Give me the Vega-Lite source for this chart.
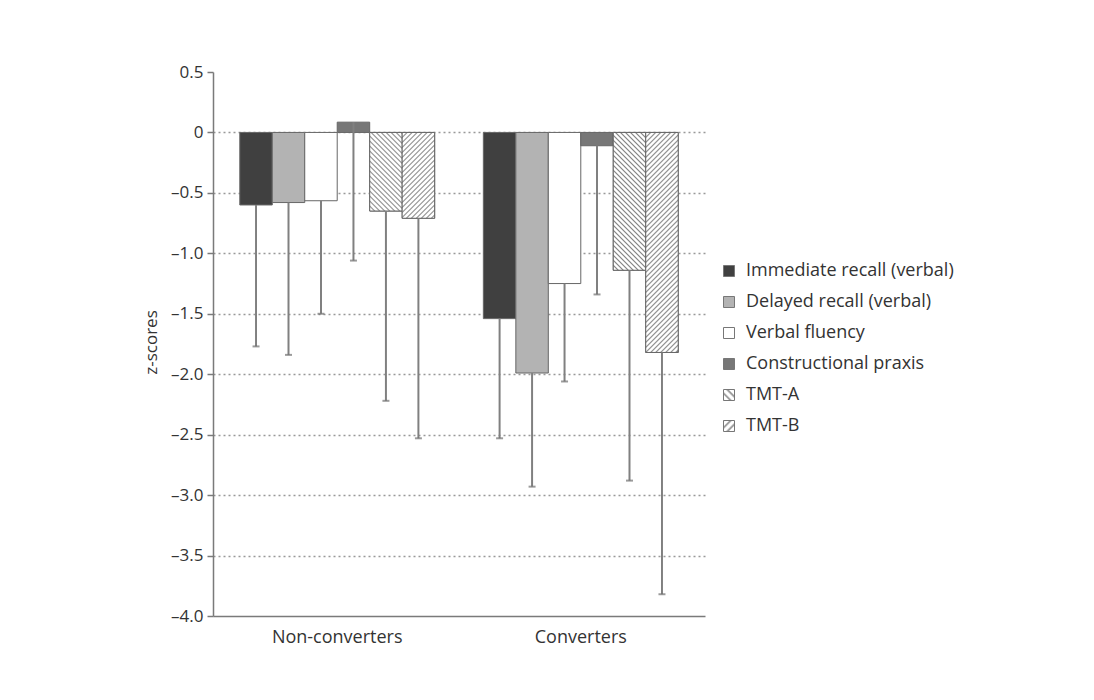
{
  "$schema": "https://vega.github.io/schema/vega-lite/v6.json",
  "autosize": {"type": "none"},
  "padding": {"left": 213, "top": 72, "right": 389, "bottom": 84},
  "width": 492,
  "height": 544,
  "background": "white",
  "config": {
    "view": {"stroke": null},
    "font": "Open Sans",
    "axis": {"labelFont": "Open Sans", "titleFont": "Open Sans"},
    "legend": {"labelFont": "Open Sans"}
  },
  "params": [
    {"name": "gradA", "value": {"gradient": "linear", "x1": 0, "y1": 1, "x2": 1, "y2": 0, "stops": [
      {"offset": 0, "color": "#888"}, {"offset": 0.1, "color": "#fff"}, {"offset": 0.23, "color": "#fff"},
      {"offset": 0.333, "color": "#888"}, {"offset": 0.43, "color": "#fff"}, {"offset": 0.56, "color": "#fff"},
      {"offset": 0.667, "color": "#888"}, {"offset": 0.77, "color": "#fff"}, {"offset": 0.9, "color": "#fff"},
      {"offset": 1, "color": "#888"}]}},
    {"name": "gradB", "value": {"gradient": "linear", "x1": 0, "y1": 0, "x2": 1, "y2": 1, "stops": [
      {"offset": 0, "color": "#888"}, {"offset": 0.1, "color": "#fff"}, {"offset": 0.23, "color": "#fff"},
      {"offset": 0.333, "color": "#888"}, {"offset": 0.43, "color": "#fff"}, {"offset": 0.56, "color": "#fff"},
      {"offset": 0.667, "color": "#888"}, {"offset": 0.77, "color": "#fff"}, {"offset": 0.9, "color": "#fff"},
      {"offset": 1, "color": "#888"}]}},
    {"name": "hatch", "value": [
      {"offset":0,"color":"#888"},{"offset":0.006,"color":"#fff"},{"offset":0.014,"color":"#fff"},
      {"offset":0.02,"color":"#888"},{"offset":0.026,"color":"#fff"},{"offset":0.034,"color":"#fff"},
      {"offset":0.04,"color":"#888"},{"offset":0.046,"color":"#fff"},{"offset":0.054,"color":"#fff"},
      {"offset":0.06,"color":"#888"},{"offset":0.066,"color":"#fff"},{"offset":0.074,"color":"#fff"},
      {"offset":0.08,"color":"#888"},{"offset":0.086,"color":"#fff"},{"offset":0.094,"color":"#fff"},
      {"offset":0.10,"color":"#888"},{"offset":0.106,"color":"#fff"},{"offset":0.114,"color":"#fff"},
      {"offset":0.12,"color":"#888"},{"offset":0.126,"color":"#fff"},{"offset":0.134,"color":"#fff"},
      {"offset":0.14,"color":"#888"},{"offset":0.146,"color":"#fff"},{"offset":0.154,"color":"#fff"},
      {"offset":0.16,"color":"#888"},{"offset":0.166,"color":"#fff"},{"offset":0.174,"color":"#fff"},
      {"offset":0.18,"color":"#888"},{"offset":0.186,"color":"#fff"},{"offset":0.194,"color":"#fff"},
      {"offset":0.20,"color":"#888"},{"offset":0.206,"color":"#fff"},{"offset":0.214,"color":"#fff"},
      {"offset":0.22,"color":"#888"},{"offset":0.226,"color":"#fff"},{"offset":0.234,"color":"#fff"},
      {"offset":0.24,"color":"#888"},{"offset":0.246,"color":"#fff"},{"offset":0.254,"color":"#fff"},
      {"offset":0.26,"color":"#888"},{"offset":0.266,"color":"#fff"},{"offset":0.274,"color":"#fff"},
      {"offset":0.28,"color":"#888"},{"offset":0.286,"color":"#fff"},{"offset":0.294,"color":"#fff"},
      {"offset":0.30,"color":"#888"},{"offset":0.306,"color":"#fff"},{"offset":0.314,"color":"#fff"},
      {"offset":0.32,"color":"#888"},{"offset":0.326,"color":"#fff"},{"offset":0.334,"color":"#fff"},
      {"offset":0.34,"color":"#888"},{"offset":0.346,"color":"#fff"},{"offset":0.354,"color":"#fff"},
      {"offset":0.36,"color":"#888"},{"offset":0.366,"color":"#fff"},{"offset":0.374,"color":"#fff"},
      {"offset":0.38,"color":"#888"},{"offset":0.386,"color":"#fff"},{"offset":0.394,"color":"#fff"},
      {"offset":0.40,"color":"#888"},{"offset":0.406,"color":"#fff"},{"offset":0.414,"color":"#fff"},
      {"offset":0.42,"color":"#888"},{"offset":0.426,"color":"#fff"},{"offset":0.434,"color":"#fff"},
      {"offset":0.44,"color":"#888"},{"offset":0.446,"color":"#fff"},{"offset":0.454,"color":"#fff"},
      {"offset":0.46,"color":"#888"},{"offset":0.466,"color":"#fff"},{"offset":0.474,"color":"#fff"},
      {"offset":0.48,"color":"#888"},{"offset":0.486,"color":"#fff"},{"offset":0.494,"color":"#fff"},
      {"offset":0.50,"color":"#888"},{"offset":0.506,"color":"#fff"},{"offset":0.514,"color":"#fff"},
      {"offset":0.52,"color":"#888"},{"offset":0.526,"color":"#fff"},{"offset":0.534,"color":"#fff"},
      {"offset":0.54,"color":"#888"},{"offset":0.546,"color":"#fff"},{"offset":0.554,"color":"#fff"},
      {"offset":0.56,"color":"#888"},{"offset":0.566,"color":"#fff"},{"offset":0.574,"color":"#fff"},
      {"offset":0.58,"color":"#888"},{"offset":0.586,"color":"#fff"},{"offset":0.594,"color":"#fff"},
      {"offset":0.60,"color":"#888"},{"offset":0.606,"color":"#fff"},{"offset":0.614,"color":"#fff"},
      {"offset":0.62,"color":"#888"},{"offset":0.626,"color":"#fff"},{"offset":0.634,"color":"#fff"},
      {"offset":0.64,"color":"#888"},{"offset":0.646,"color":"#fff"},{"offset":0.654,"color":"#fff"},
      {"offset":0.66,"color":"#888"},{"offset":0.666,"color":"#fff"},{"offset":0.674,"color":"#fff"},
      {"offset":0.68,"color":"#888"},{"offset":0.686,"color":"#fff"},{"offset":0.694,"color":"#fff"},
      {"offset":0.70,"color":"#888"},{"offset":0.706,"color":"#fff"},{"offset":0.714,"color":"#fff"},
      {"offset":0.72,"color":"#888"},{"offset":0.726,"color":"#fff"},{"offset":0.734,"color":"#fff"},
      {"offset":0.74,"color":"#888"},{"offset":0.746,"color":"#fff"},{"offset":0.754,"color":"#fff"},
      {"offset":0.76,"color":"#888"},{"offset":0.766,"color":"#fff"},{"offset":0.774,"color":"#fff"},
      {"offset":0.78,"color":"#888"},{"offset":0.786,"color":"#fff"},{"offset":0.794,"color":"#fff"},
      {"offset":0.80,"color":"#888"},{"offset":0.806,"color":"#fff"},{"offset":0.814,"color":"#fff"},
      {"offset":0.82,"color":"#888"},{"offset":0.826,"color":"#fff"},{"offset":0.834,"color":"#fff"},
      {"offset":0.84,"color":"#888"},{"offset":0.846,"color":"#fff"},{"offset":0.854,"color":"#fff"},
      {"offset":0.86,"color":"#888"},{"offset":0.866,"color":"#fff"},{"offset":0.874,"color":"#fff"},
      {"offset":0.88,"color":"#888"},{"offset":0.886,"color":"#fff"},{"offset":0.894,"color":"#fff"},
      {"offset":0.90,"color":"#888"},{"offset":0.906,"color":"#fff"},{"offset":0.914,"color":"#fff"},
      {"offset":0.92,"color":"#888"},{"offset":0.926,"color":"#fff"},{"offset":0.934,"color":"#fff"},
      {"offset":0.94,"color":"#888"},{"offset":0.946,"color":"#fff"},{"offset":0.954,"color":"#fff"},
      {"offset":0.96,"color":"#888"},{"offset":0.966,"color":"#fff"},{"offset":0.974,"color":"#fff"},
      {"offset":0.98,"color":"#888"},{"offset":0.986,"color":"#fff"},{"offset":0.994,"color":"#fff"},
      {"offset":1,"color":"#888"}
    ]}
  ],
  "data": {"values": [
    {"group": "Non-converters", "measure": "Immediate recall (verbal)", "value": -0.60, "low": -1.77},
    {"group": "Non-converters", "measure": "Delayed recall (verbal)", "value": -0.58, "low": -1.84},
    {"group": "Non-converters", "measure": "Verbal fluency", "value": -0.565, "low": -1.50},
    {"group": "Non-converters", "measure": "Constructional praxis", "value": 0.085, "low": -1.06},
    {"group": "Non-converters", "measure": "TMT-A", "value": -0.65, "low": -2.22},
    {"group": "Non-converters", "measure": "TMT-B", "value": -0.71, "low": -2.53},
    {"group": "Converters", "measure": "Immediate recall (verbal)", "value": -1.54, "low": -2.53},
    {"group": "Converters", "measure": "Delayed recall (verbal)", "value": -1.99, "low": -2.93},
    {"group": "Converters", "measure": "Verbal fluency", "value": -1.25, "low": -2.06},
    {"group": "Converters", "measure": "Constructional praxis", "value": -0.11, "low": -1.34},
    {"group": "Converters", "measure": "TMT-A", "value": -1.14, "low": -2.88},
    {"group": "Converters", "measure": "TMT-B", "value": -1.82, "low": -3.82}
  ]},
  "encoding": {
    "x": {
      "field": "group", "type": "nominal",
      "sort": ["Non-converters", "Converters"],
      "scale": {"paddingInner": 0.2, "paddingOuter": 0.11},
      "axis": {
        "title": null, "labelAngle": 0, "ticks": false, "domainColor": "#7a7a7a", "domainWidth": 1.5,
        "labelFontSize": 18, "labelColor": "#333", "labelPadding": 12, "grid": false
      }
    },
    "xOffset": {
      "field": "measure", "type": "nominal",
      "sort": ["Immediate recall (verbal)", "Delayed recall (verbal)", "Verbal fluency", "Constructional praxis", "TMT-A", "TMT-B"],
      "scale": {"paddingInner": 0, "paddingOuter": 0}
    }
  },
  "layer": [
    {
      "mark": {"type": "bar", "stroke": "#666", "strokeWidth": 1, "opacity": 1},
      "encoding": {
        "y": {
          "field": "value", "type": "quantitative",
          "scale": {"domain": [-4, 0.5], "nice": false, "zero": false},
          "axis": {
            "title": "z-scores", "titleFontSize": 17, "titleFontWeight": "normal", "titleColor": "#333", "titlePadding": 10,
            "titleY": 270, "titleAnchor": "middle", "titleAlign": "center", "titleAngle": -90,
            "values": [-4, -3.5, -3, -2.5, -2, -1.5, -1, -0.5, 0, 0.5],
            "labelExpr": "datum.value == 0 ? '0' : replace(replace(format(datum.value, '.1f'), '-', '\u2013'), '\u2212', '\u2013')",
            "labelFontSize": 17, "labelColor": "#333", "labelPadding": 4,
            "domainColor": "#7a7a7a", "domainWidth": 1.5, "tickColor": "#7a7a7a", "tickSize": 6, "tickWidth": 1.5,
            "grid": true, "gridColor": "#999", "gridDash": [2, 3], "gridWidth": 1.5,
            "gridOpacity": {"condition": {"test": "datum.value == 0.5 || datum.value == -4", "value": 0}, "value": 1}
          }
        },
        "color": {
          "field": "measure", "type": "nominal",
          "sort": ["Immediate recall (verbal)", "Delayed recall (verbal)", "Verbal fluency", "Constructional praxis", "TMT-A", "TMT-B"],
          "scale": {
            "domain": ["Immediate recall (verbal)", "Delayed recall (verbal)", "Verbal fluency", "Constructional praxis", "TMT-A", "TMT-B"],
            "range": ["#404040", "#b3b3b3", "#ffffff", "#777777", {"expr": "gradA"}, {"expr": "gradB"}]
          },
          "legend": {
            "title": null, "orient": "none", "legendX": 507, "legendY": 190,
            "symbolType": "square", "symbolSize": 121, "symbolStrokeColor": "#777", "symbolStrokeWidth": 1,
            "labelFontSize": 18, "labelColor": "#333", "labelOffset": 8, "rowPadding": 13, "labelLimit": 400,
            "encoding": {
              "symbols": {
                "stroke": {"value": "#777"},
                "strokeWidth": {"value": 1},
                "opacity": {"value": 1}
              }
            }
          }
        },
        "y2": {"datum": 0}
      }
    },
    {
      "transform": [{"filter": "datum.measure === 'TMT-A' || datum.measure === 'TMT-B'"}],
      "mark": {
        "type": "bar", "stroke": "#666", "strokeWidth": 1,
        "fill": {"expr": "datum.measure === 'TMT-A' ? {gradient: 'linear', x1: 0, y1: 1, x2: 250*bandwidth('xOffset')/(pow(bandwidth('xOffset'),2)+pow(scale('y',datum.value)-scale('y',0),2)), y2: 1 - 250*abs(scale('y',datum.value)-scale('y',0))/(pow(bandwidth('xOffset'),2)+pow(scale('y',datum.value)-scale('y',0),2)), stops: hatch} : {gradient: 'linear', x1: 0, y1: 0, x2: 250*bandwidth('xOffset')/(pow(bandwidth('xOffset'),2)+pow(scale('y',datum.value)-scale('y',0),2)), y2: 250*abs(scale('y',datum.value)-scale('y',0))/(pow(bandwidth('xOffset'),2)+pow(scale('y',datum.value)-scale('y',0),2)), stops: hatch}"}
      },
      "encoding": {
        "y": {"field": "value", "type": "quantitative"},
        "y2": {"datum": 0}
      }
    },
    {
      "mark": {"type": "rule", "color": "#808080", "strokeWidth": 2},
      "encoding": {
        "y": {"field": "value", "type": "quantitative"},
        "y2": {"field": "low"}
      }
    },
    {
      "mark": {"type": "tick", "color": "#707070", "size": 7, "thickness": 2, "orient": "horizontal"},
      "encoding": {
        "y": {"field": "low", "type": "quantitative"}
      }
    }
  ]
}
